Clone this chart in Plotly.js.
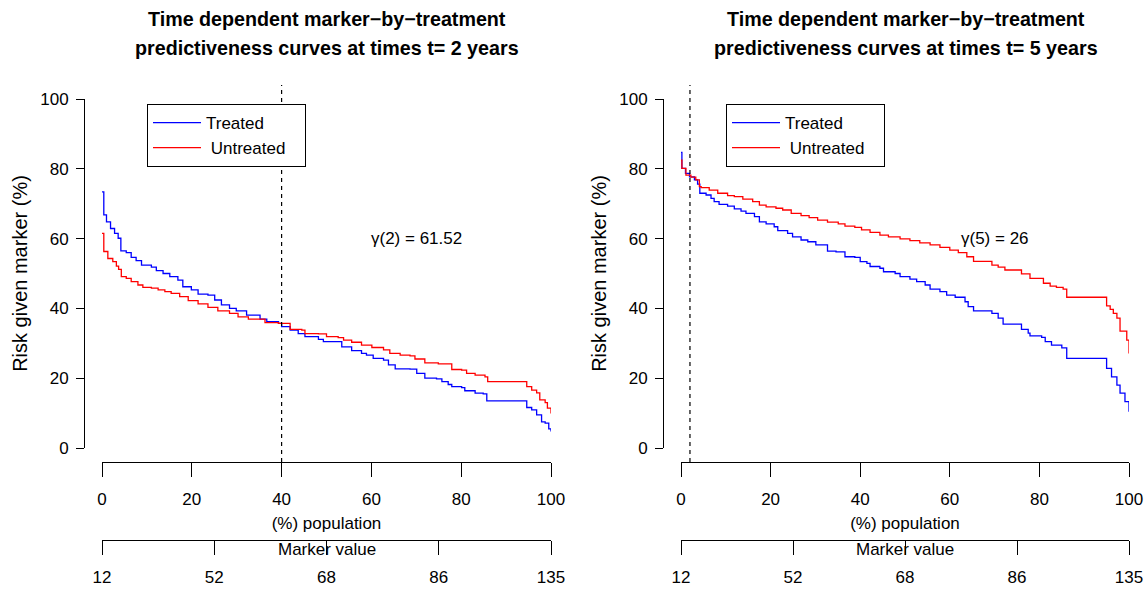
<!DOCTYPE html>
<html>
<head>
<meta charset="utf-8">
<script src="https://cdn.plot.ly/plotly-3.0.1.min.js"></script>
<style>html,body{margin:0;padding:0;background:#fff;}#chart{width:1148px;height:590px;}</style>
</head>
<body>
<div id="chart"></div>
<script>
// ---- data ----
var titleLine1 = ["Time dependent marker\u2212by\u2212treatment", "Time dependent marker\u2212by\u2212treatment"];
var titleLine2 = ["predictiveness curves at times t= 2 years", "predictiveness curves at times t= 5 years"];
var seriesNames = ["Treated", "\u00a0Untreated"];
var popTicks = [0, 20, 40, 60, 80, 100];
var riskTicks = [0, 20, 40, 60, 80, 100];
var markerTickPos = [0, 25, 50, 75, 100];
var markerTickLabels = ["12", "52", "68", "86", "135"];
var cutoffs = [40, 2];
var gammaLabels = ["\u03b3(2) = 61.52", "\u03b3(5) = 26"];

// t = 2 years
var t2TreatedPop = [0,0.4,1,1.9,2.8,3.6,4.2,5.4,6.5,7.6,8.8,11,12.1,13.6,15.1,16.9,18,19.9,21.4,23.6,25.1,26.6,28.4,29.9,32.2,35.2,36.7,39.3,40,41.9,43.7,45.2,48.2,49.3,53.4,55.6,57.8,58.9,60.4,62.7,63.8,65.3,68.6,70.1,71.9,74.5,75.7,77.1,77.9,80.1,80.8,83.1,84.9,85.7,94.6,95.7,96.8,97.9,98.7,99.5,100];
var t2TreatedRisk = [73.4,66.8,64.8,62.9,61.5,60.1,56.5,56.0,54.6,53.7,52.4,51.8,50.8,50.0,49.1,48.1,46.2,45.3,44.1,43.8,42.4,41.0,40.0,39.3,38.1,36.9,36.2,35.7,34.8,33.8,32.8,31.9,31.1,30.5,29.0,27.9,27.1,26.6,25.7,25.2,23.8,22.7,22.6,21.4,20.0,19.8,19.0,18.2,17.6,17.3,16.4,15.7,15.5,13.5,11.6,10.9,9.5,7.5,7.1,5.5,4.7];
var t2UntreatedPop = [0,0.4,1.3,2.4,3.2,3.7,4.3,5.4,6.5,8.0,9.1,11,12.5,14,15.4,17.3,19.2,21.4,23.6,25.8,28.4,30.3,32.6,36.3,39.3,41.9,44.5,45.2,48.2,50.0,52.6,53.8,55.6,57.8,60.1,62.7,64.1,66.4,68.6,69.7,71.9,74.9,77.9,80.1,81.2,83.1,85.3,85.9,94.6,95.7,96.8,97.5,98.7,99.2,100];
var t2UntreatedRisk = [61.5,56.3,54.3,53.4,52.1,51.2,49.1,48.6,47.7,46.7,46.0,45.8,45.3,44.8,44.3,43.4,42.2,41.3,40.3,39.3,38.6,37.6,36.9,35.9,35.7,34.0,33.8,32.8,32.7,31.9,31.6,30.9,30.3,29.5,28.8,28.1,27.1,26.6,26.4,25.5,24.4,24.1,22.5,22.3,21.4,20.9,20.4,19.0,17.6,16.6,15.8,13.8,13.0,11.4,9.9];

// t = 5 years
var t5TreatedPop = [0,0.2,1.0,1.9,3.0,3.7,4.2,5.6,6.7,7.4,8.5,10.4,11.9,13.4,14.5,16.4,17.5,19.0,20.8,21.6,23.8,24.9,26.8,28.3,30.1,32.7,34.6,36.6,38.8,40.0,41.5,42.2,44.4,45.2,47.8,48.9,51.1,52.6,54.5,55.6,57.8,59.3,61.2,63.4,64.1,65.3,69.4,70.8,71.9,76.0,77.5,77.9,80.5,81.3,82.7,85.0,86.1,95.0,96.1,97.3,98.0,99.1,100];
var t5TreatedRisk = [84.7,80.1,78.7,77.7,76.8,75.6,73.0,72.5,71.5,70.6,69.8,69.3,68.5,67.9,67.2,66.3,64.8,64.2,63.4,62.3,61.5,60.5,59.6,59.1,58.2,56.4,56.2,54.8,54.6,53.4,52.9,52.0,51.5,50.5,50.0,49.1,48.4,47.7,46.7,45.5,44.8,43.8,43.2,41.9,40.5,39.3,38.6,37.2,35.5,34.0,32.9,32.1,31.7,30.5,29.5,28.7,25.7,22.8,20.4,18.0,15.7,13.3,10.4];
var t5UntreatedPop = [0,0.2,1.1,2.2,3.3,4.1,4.5,6.3,8.2,10.4,11.9,13.8,16.0,17.5,19.0,21.2,22.7,24.6,26.8,28.6,30.5,32.7,35.1,36.6,38.8,40.3,42.2,44.4,46.3,48.9,51.1,53.3,55.6,57.8,60.0,61.9,63.8,65.3,69.4,70.8,72.3,76.0,77.9,80.9,82.4,83.8,85.3,86.1,95.0,95.8,96.5,97.3,98.0,99.5,100];
var t5UntreatedRisk = [82.5,80.1,78.2,77.6,76.8,74.9,74.6,73.9,73.0,72.3,72.0,71.3,70.6,69.6,69.1,68.7,68.2,67.2,66.6,66.0,65.3,64.7,64.2,63.6,63.2,62.5,61.8,61.0,60.5,59.9,59.4,58.8,58.2,57.5,56.7,56.0,54.8,53.5,52.4,51.8,51.0,49.9,48.6,47.2,46.4,46.0,45.5,43.2,40.7,39.7,38.6,37.2,33.5,30.9,27.1];

// ---- page geometry (pixels of the 1148x590 page) ----
var W = 1148, H = 590;
function px(x) { return x / W; }
function py(y) { return 1 - y / H; }
var FONT = "Liberation Sans, Arial, Helvetica, sans-serif";
var BLUE = "#0000FF", RED = "#FF0000";
var LEGPAD = "\u00a0\u00a0\u00a0";

var panels = [
  {x0: 102, x1: 551, ax: 84, xa: "x", ya: "y", xm: "x3", leg: "legend",
   tre: [t2TreatedPop, t2TreatedRisk], unt: [t2UntreatedPop, t2UntreatedRisk], gx: 416},
  {x0: 681, x1: 1129, ax: 663, xa: "x2", ya: "y2", xm: "x4", leg: "legend2",
   tre: [t5TreatedPop, t5TreatedRisk], unt: [t5UntreatedPop, t5UntreatedRisk], gx: 995}
];

var traces = [];
panels.forEach(function (p, i) {
  traces.push({x: p.tre[0], y: p.tre[1], type: "scatter", mode: "lines", name: seriesNames[0],
    line: {color: BLUE, width: 1.3, shape: "hv"}, xaxis: p.xa, yaxis: p.ya, legend: p.leg});
  traces.push({x: p.unt[0], y: p.unt[1], type: "scatter", mode: "lines", name: seriesNames[1] + LEGPAD,
    line: {color: RED, width: 1.3, shape: "hv"}, xaxis: p.xa, yaxis: p.ya, legend: p.leg});
  // carrier for the secondary "Marker value" axis (no visible marks)
  traces.push({x: markerTickPos, y: markerTickPos.map(function () { return null; }), type: "scatter",
    mode: "lines", xaxis: p.xm, yaxis: p.ya, showlegend: false, hoverinfo: "skip"});
});

var tickFont = {family: FONT, size: 17, color: "#000"};
function popAxis(p) {
  return {domain: [px(p.x0), px(p.x1)], range: [0, 100], anchor: "free", position: py(462),
    tickvals: popTicks, ticks: "outside", ticklen: 14, tickwidth: 1, tickcolor: "#000",
    showline: true, linecolor: "#000", linewidth: 1, showgrid: false, zeroline: false,
    tickfont: tickFont, ticklabelstandoff: 8,
    title: {text: "(%) population", font: tickFont, standoff: 8}};
}
function markerAxis(p, over) {
  return {domain: [px(p.x0), px(p.x1)], range: [0, 100], anchor: "free", position: py(540),
    overlaying: over, side: "bottom",
    tickvals: markerTickPos, ticktext: markerTickLabels, ticks: "outside", ticklen: 14, tickwidth: 1,
    tickcolor: "#000", showline: true, linecolor: "#000", linewidth: 1, showgrid: false, zeroline: false,
    tickfont: tickFont, ticklabelstandoff: 8};
}
function riskAxis(p) {
  return {domain: [py(448), py(99)], range: [0, 100], anchor: "free", position: px(p.ax),
    tickvals: riskTicks, ticks: "outside", ticklen: 8, tickwidth: 1, tickcolor: "#000",
    showline: true, linecolor: "#000", linewidth: 1, showgrid: false, zeroline: false,
    tickfont: tickFont, ticklabelstandoff: 4,
    title: {text: "Risk given marker (%)", font: {family: FONT, size: 20, color: "#000"}, standoff: 6}};
}

var annotations = [], shapes = [];
var titleFont = {family: FONT, size: 19.7, color: "#000"};
panels.forEach(function (p, i) {
  var cx = p.ax + 242.5;
  annotations.push({xref: "paper", yref: "paper", x: px(cx), y: py(19), xanchor: "center", yanchor: "middle",
    text: "<b>" + titleLine1[i] + "</b>", showarrow: false, font: titleFont});
  annotations.push({xref: "paper", yref: "paper", x: px(cx), y: py(48), xanchor: "center", yanchor: "middle",
    text: "<b>" + titleLine2[i] + "</b>", showarrow: false, font: titleFont});
  annotations.push({xref: "paper", yref: "paper", x: px((p.x0 + p.x1) / 2), y: py(549), xanchor: "center", yanchor: "middle",
    text: "Marker value", showarrow: false, font: tickFont});
  annotations.push({xref: "paper", yref: "paper", x: px(p.gx), y: py(238), xanchor: "center", yanchor: "middle",
    text: gammaLabels[i], showarrow: false, font: tickFont});
  shapes.push({type: "line", xref: p.xa, yref: "paper", x0: cutoffs[i], x1: cutoffs[i], y0: py(462), y1: py(85),
    line: {color: "#000", width: 1.2, dash: "4px,4px"}});
});

function legendBox(p) {
  return {x: px(p.x0 + 45), y: py(104), xanchor: "left", yanchor: "top", bgcolor: "#fff",
    bordercolor: "#000", borderwidth: 1, font: tickFont, itemwidth: 48, tracegroupgap: 0};
}

var layout = {
  width: W, height: H, margin: {l: 0, r: 0, t: 0, b: 0},
  paper_bgcolor: "#fff", plot_bgcolor: "#fff",
  font: {family: FONT, size: 17, color: "#000"},
  showlegend: true,
  xaxis: popAxis(panels[0]), yaxis: riskAxis(panels[0]),
  xaxis2: popAxis(panels[1]), yaxis2: riskAxis(panels[1]),
  xaxis3: markerAxis(panels[0], "x"), xaxis4: markerAxis(panels[1], "x2"),
  legend: legendBox(panels[0]), legend2: legendBox(panels[1]),
  annotations: annotations, shapes: shapes
};

Plotly.newPlot("chart", traces, layout, {displayModeBar: false, staticPlot: true});
</script>
</body>
</html>
